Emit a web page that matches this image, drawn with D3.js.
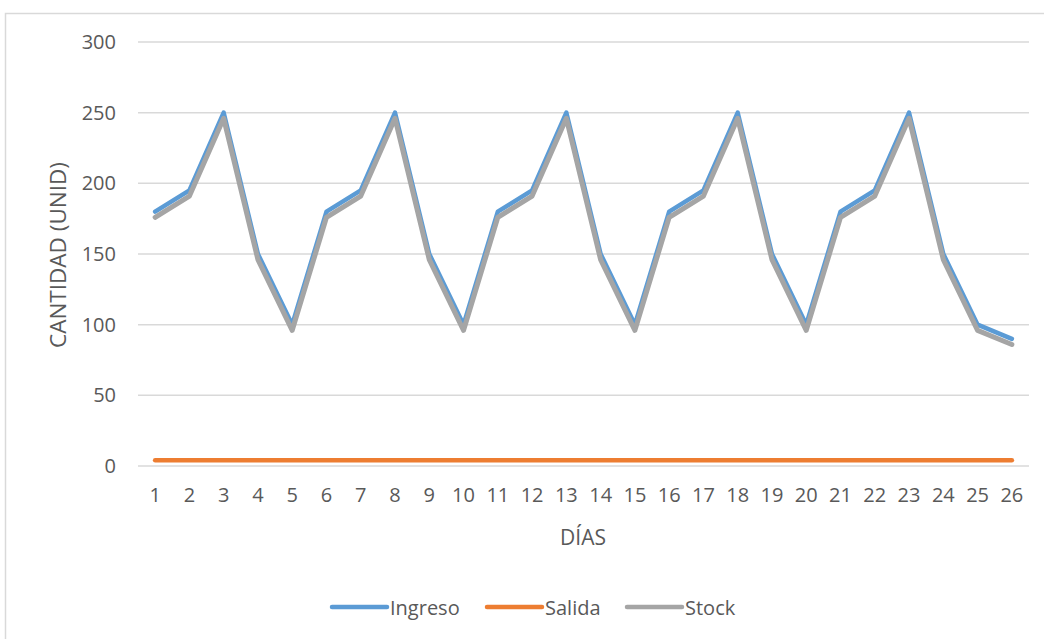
<!DOCTYPE html>
<html>
<head>
<meta charset="utf-8">
<script src="https://cdn.jsdelivr.net/npm/d3@7"></script>
<style>
  html, body { margin: 0; padding: 0; background: #fff; }
  svg text { font-family: "Open Sans", "Liberation Sans", sans-serif; fill: #595959; }
</style>
</head>
<body>
<svg id="chart" width="1044" height="639"></svg>
<script>
// Daily inventory movements
const dias = d3.range(1, 27).map(String);
const ingreso = [180, 195, 250, 150, 100, 180, 195, 250, 150, 100, 180, 195, 250, 150, 100,
                 180, 195, 250, 150, 100, 180, 195, 250, 150, 100, 90];
const salida = Array(26).fill(4);
const stock = [176, 191, 246, 146, 96, 176, 191, 246, 146, 96, 176, 191, 246, 146, 96,
               176, 191, 246, 146, 96, 176, 191, 246, 146, 96, 86];
const yTicks = [0, 50, 100, 150, 200, 250, 300];

const seriesNames = ["Ingreso", "Salida", "Stock"];
const seriesColors = ["#5B9BD5", "#ED7D31", "#A5A5A5"];
const seriesValues = [ingreso, salida, stock];

const svg = d3.select("#chart");

// Chart frame
svg.append("rect")
  .attr("x", 5.5).attr("y", 13.5)
  .attr("width", 1044).attr("height", 640)
  .attr("fill", "#fff").attr("stroke", "#D9D9D9").attr("stroke-width", 1.5);

const plot = { left: 138, right: 1029, top: 42, bottom: 466 };

const x = d3.scaleBand().domain(dias).range([plot.left, plot.right]);
const y = d3.scaleLinear().domain([0, 300]).range([plot.bottom, plot.top]);

// Horizontal gridlines
svg.append("g")
  .selectAll("line").data(yTicks).join("line")
  .attr("x1", plot.left).attr("x2", plot.right)
  .attr("y1", d => y(d)).attr("y2", d => y(d))
  .attr("stroke", "#D9D9D9").attr("stroke-width", 1.5);

// Y axis labels
const yAxis = svg.append("g")
  .attr("transform", `translate(${plot.left - 22},0)`)
  .call(d3.axisLeft(y).tickValues(yTicks).tickSize(0).tickPadding(0));
yAxis.select(".domain").remove();
yAxis.selectAll("text")
  .attr("font-size", 20).attr("fill", "#595959")
  .style("font-family", '"Open Sans", "Liberation Sans", sans-serif');

// X axis labels
const xAxis = svg.append("g")
  .attr("transform", `translate(0,${plot.bottom})`)
  .call(d3.axisBottom(x).tickSize(0).tickPadding(22));
xAxis.select(".domain").remove();
xAxis.selectAll("text")
  .attr("font-size", 20).attr("fill", "#595959")
  .style("font-family", '"Open Sans", "Liberation Sans", sans-serif');

// Axis titles
svg.append("text")
  .attr("x", 583).attr("y", 537)
  .attr("text-anchor", "middle").attr("dominant-baseline", "central")
  .attr("font-size", 21).text("DÍAS");

svg.append("text")
  .attr("transform", "translate(57,255) rotate(-90)")
  .attr("text-anchor", "middle").attr("dominant-baseline", "central")
  .attr("font-size", 22.5)
  .text("CANTIDAD (UNID)");

// Series lines
const line = d3.line()
  .x((d, i) => x(dias[i]) + x.bandwidth() / 2)
  .y(d => y(d));

seriesValues.forEach((vals, k) => {
  svg.append("path")
    .datum(vals)
    .attr("d", line)
    .attr("fill", "none")
    .attr("stroke", seriesColors[k])
    .attr("stroke-width", k === 2 ? 5 : 4.5)
    .attr("stroke-linejoin", "round")
    .attr("stroke-linecap", "round");
});

// Legend
const legendX = [332, 487, 627];
const legend = svg.append("g");
seriesNames.forEach((name, k) => {
  legend.append("line")
    .attr("x1", legendX[k]).attr("x2", legendX[k] + 55)
    .attr("y1", 607).attr("y2", 607)
    .attr("stroke", seriesColors[k]).attr("stroke-width", 4.5)
    .attr("stroke-linecap", "round");
  legend.append("text")
    .attr("x", legendX[k] + 58).attr("y", 607)
    .attr("dominant-baseline", "central")
    .attr("font-size", 20).text(name);
});
</script>
</body>
</html>
